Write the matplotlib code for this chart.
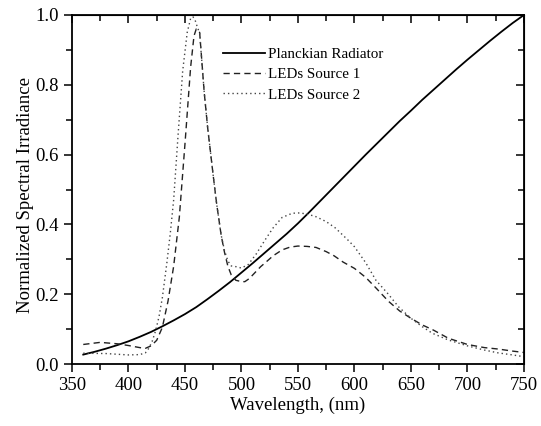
import matplotlib.pyplot as plt
from matplotlib.ticker import MultipleLocator

plt.rcParams['font.family'] = ['Liberation Serif', 'DejaVu Serif']

# Planckian radiator (normalized at 750 nm)
wl_planck = [360, 370, 380, 390, 400, 410, 420, 430, 440, 450, 460, 470, 480,
             490, 500, 510, 520, 530, 540, 550, 560, 570, 580, 590, 600, 610,
             620, 630, 640, 650, 660, 670, 680, 690, 700, 710, 720, 730, 740, 750]
planck = [0.027, 0.035, 0.044, 0.054, 0.065, 0.078, 0.092, 0.108, 0.125, 0.143,
          0.163, 0.186, 0.210, 0.235, 0.262, 0.289, 0.317, 0.345, 0.373, 0.403,
          0.435, 0.468, 0.501, 0.534, 0.567, 0.600, 0.632, 0.664, 0.696, 0.726,
          0.757, 0.786, 0.815, 0.844, 0.872, 0.899, 0.926, 0.952, 0.977, 1.0]

# LEDs Source 1
wl_led1 = [360, 375, 390, 400, 410, 415, 420, 425, 430, 435, 440, 445, 450,
           455, 458, 460, 463, 467, 470, 475, 478, 482, 485, 488, 491, 495,
           500, 503, 507, 512, 517, 521, 528, 536, 543, 550, 558, 566, 575,
           582, 590, 600, 610, 619, 630, 640, 650, 660, 670, 683, 700, 715,
           727, 740, 750]
led1 = [0.056, 0.062, 0.058, 0.053, 0.047, 0.045, 0.052, 0.068, 0.105, 0.18,
        0.28, 0.42, 0.63, 0.85, 0.94, 0.96, 0.95, 0.78, 0.68, 0.54, 0.46,
        0.37, 0.32, 0.28, 0.255, 0.24, 0.236, 0.236, 0.245, 0.262, 0.279,
        0.29, 0.31, 0.327, 0.335, 0.338, 0.337, 0.334, 0.322, 0.31, 0.292,
        0.274, 0.248, 0.218, 0.18, 0.152, 0.131, 0.112, 0.097, 0.074, 0.056,
        0.047, 0.043, 0.037, 0.033]

# LEDs Source 2
wl_led2 = [360, 380, 395, 400, 410, 415, 418, 421, 424, 427, 430, 434, 437,
           440, 444, 448, 452, 455, 457, 459, 461, 463, 467, 470, 475, 478,
           482, 485, 488, 491, 495, 500, 506, 513, 521, 528, 536, 545, 552,
           560, 566, 575, 583, 594, 600, 610, 619, 630, 639, 650, 660, 669,
           683, 700, 715, 727, 740, 750]
led2 = [0.031, 0.030, 0.027, 0.026, 0.027, 0.032, 0.045, 0.065, 0.095, 0.135,
        0.19, 0.29, 0.374, 0.47, 0.66, 0.84, 0.95, 0.99, 0.995, 0.985, 0.965,
        0.948, 0.78, 0.68, 0.54, 0.46, 0.37, 0.325, 0.295, 0.281, 0.279,
        0.275, 0.285, 0.315, 0.356, 0.39, 0.42, 0.432, 0.433, 0.428, 0.422,
        0.408, 0.39, 0.356, 0.336, 0.29, 0.24, 0.2, 0.164, 0.131, 0.107,
        0.088, 0.069, 0.052, 0.04, 0.032, 0.026, 0.021]

fig = plt.figure(figsize=(5.41, 4.26), dpi=100)
ax = fig.add_axes([0.133, 0.1455, 0.8355, 0.8193])

ax.plot(wl_planck, planck, color='black', lw=1.3, label='Planckian Radiator')
ax.plot(wl_led1, led1, color='#222222', lw=1.0, linestyle=(0, (4.5, 3)),
        label='LEDs Source 1')
ax.plot(wl_led2, led2, color='#444444', lw=1.0, linestyle=(0, (1, 2.2)),
        label='LEDs Source 2')

ax.set_xlim(350, 750)
ax.set_ylim(0, 1.0)
ax.xaxis.set_major_locator(MultipleLocator(50))
ax.xaxis.set_minor_locator(MultipleLocator(25))
ax.yaxis.set_major_locator(MultipleLocator(0.2))
ax.yaxis.set_minor_locator(MultipleLocator(0.1))
ax.yaxis.set_major_formatter(plt.FormatStrFormatter('%.1f'))

for s in ax.spines.values():
    s.set_linewidth(1.3)

ax.tick_params(which='both', direction='out', top=False, right=False,
               labelsize=13.5, width=1.1)
ax.tick_params(which='major', length=6)
ax.tick_params(which='minor', length=4)

# inward ticks on the top and right sides
top = ax.secondary_xaxis('top')
top.xaxis.set_major_locator(MultipleLocator(50))
top.xaxis.set_minor_locator(MultipleLocator(25))
top.tick_params(which='both', direction='in', labeltop=False, width=1.1)
top.tick_params(which='major', length=6)
top.tick_params(which='minor', length=4)
right = ax.secondary_yaxis('right')
right.yaxis.set_major_locator(MultipleLocator(0.2))
right.yaxis.set_minor_locator(MultipleLocator(0.1))
right.tick_params(which='both', direction='in', labelright=False, width=1.1)
right.tick_params(which='major', length=6)
right.tick_params(which='minor', length=4)

ax.set_xlabel('Wavelength, (nm)', fontsize=13.5, labelpad=2)
ax.set_ylabel('Normalized Spectral Irradiance', fontsize=13.5, labelpad=1)
ax.yaxis.label.set_y(0.484)

ax.legend(loc='upper left', bbox_to_anchor=(0.305, 0.945), frameon=False,
          fontsize=10.8, handlelength=2.8, handletextpad=0.2,
          labelspacing=0.45)

fig.savefig('out.png', dpi=100)
